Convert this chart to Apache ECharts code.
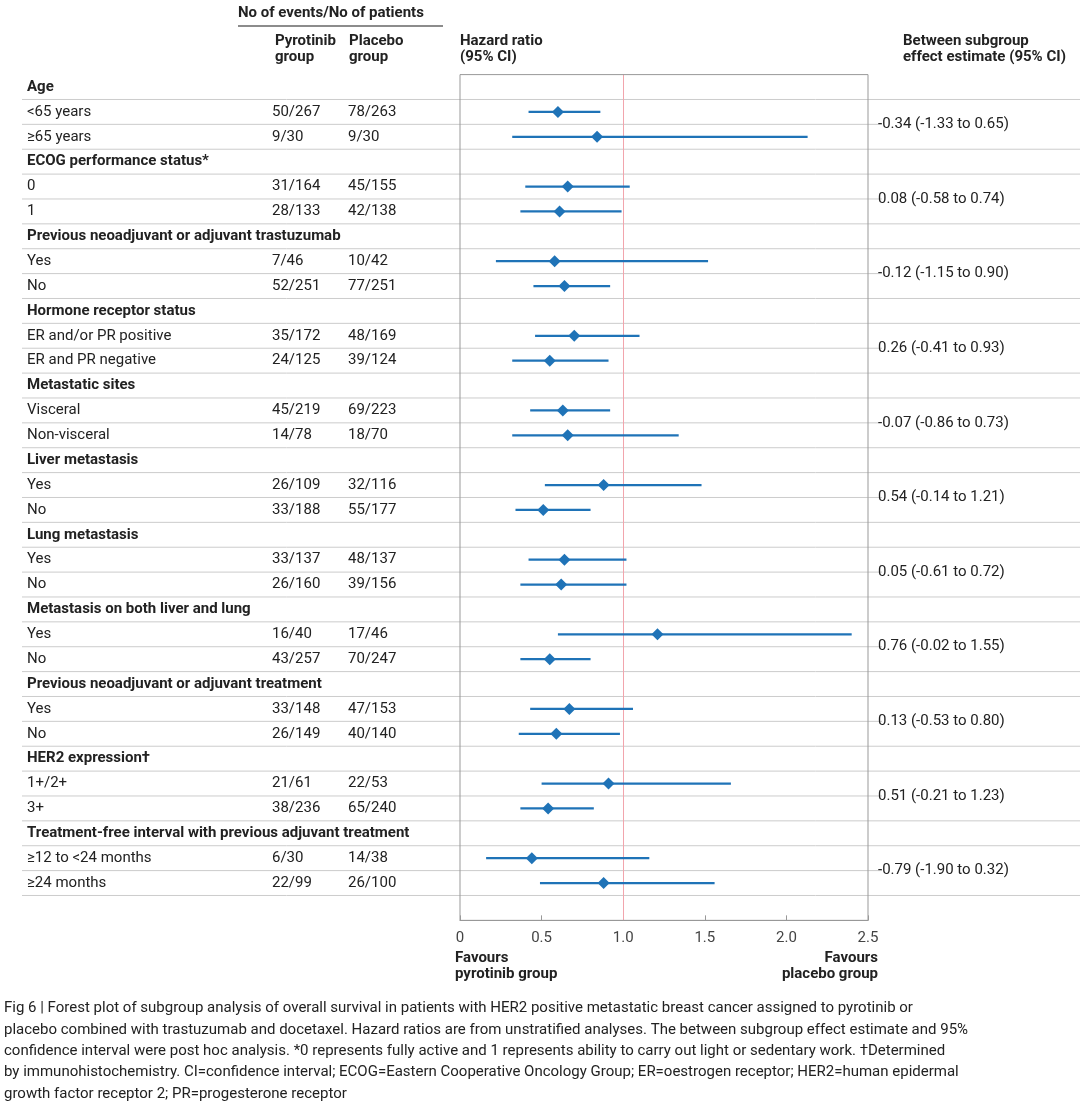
<!DOCTYPE html>
<html><head><meta charset="utf-8">
<script src="https://cdn.jsdelivr.net/npm/echarts@6/dist/echarts.min.js"></script>
<style>body{margin:0;background:#fff}#main{width:1080px;height:1102px}</style>
</head><body><div id="main"></div>
<script>
var FONT = 'Roboto,"Liberation Sans",sans-serif';
var groups = ['Age','ECOG performance status*','Previous neoadjuvant or adjuvant trastuzumab','Hormone receptor status',
  'Metastatic sites','Liver metastasis','Lung metastasis','Metastasis on both liver and lung',
  'Previous neoadjuvant or adjuvant treatment','HER2 expression\u2020','Treatment-free interval with previous adjuvant treatment'];
var subLabels = [['<65 years','\u226565 years'],['0','1'],['Yes','No'],['ER and/or PR positive','ER and PR negative'],
  ['Visceral','Non-visceral'],['Yes','No'],['Yes','No'],['Yes','No'],['Yes','No'],['1+/2+','3+'],
  ['\u226512 to <24 months','\u226524 months']];
var pyroCounts = [['50/267','9/30'],['31/164','28/133'],['7/46','52/251'],['35/172','24/125'],['45/219','14/78'],
  ['26/109','33/188'],['33/137','26/160'],['16/40','43/257'],['33/148','26/149'],['21/61','38/236'],['6/30','22/99']];
var placeboCounts = [['78/263','9/30'],['45/155','42/138'],['10/42','77/251'],['48/169','39/124'],['69/223','18/70'],
  ['32/116','55/177'],['48/137','39/156'],['17/46','70/247'],['47/153','40/140'],['22/53','65/240'],['14/38','26/100']];
var hr = [[0.60,0.84],[0.66,0.61],[0.58,0.64],[0.70,0.55],[0.63,0.66],[0.88,0.51],[0.64,0.62],[1.21,0.55],[0.67,0.59],[0.91,0.54],[0.44,0.88]];
var lo = [[0.42,0.32],[0.40,0.37],[0.22,0.45],[0.46,0.32],[0.43,0.32],[0.52,0.34],[0.42,0.37],[0.60,0.37],[0.43,0.36],[0.50,0.37],[0.16,0.49]];
var hi = [[0.86,2.13],[1.04,0.99],[1.52,0.92],[1.10,0.91],[0.92,1.34],[1.48,0.80],[1.02,1.02],[2.40,0.80],[1.06,0.98],[1.66,0.82],[1.16,1.56]];
var effects = ['-0.34 (-1.33 to 0.65)','0.08 (-0.58 to 0.74)','-0.12 (-1.15 to 0.90)','0.26 (-0.41 to 0.93)',
  '-0.07 (-0.86 to 0.73)','0.54 (-0.14 to 1.21)','0.05 (-0.61 to 0.72)','0.76 (-0.02 to 1.55)',
  '0.13 (-0.53 to 0.80)','0.51 (-0.21 to 1.23)','-0.79 (-1.90 to 0.32)'];
var xTicks = ['0','0.5','1.0','1.5','2.0','2.5'];

var nRows = groups.length * 3 + 1;
var cats = [];
for (var i = 0; i < nRows; i++) cats.push(String(i));
var tableData = [], ciData = [];
groups.forEach(function (g, gi) {
  tableData.push([0, gi * 3, 'group', gi, 0]);
  for (var s = 0; s < 2; s++) {
    tableData.push([0, gi * 3 + 1 + s, 'sub', gi, s]);
    ciData.push([lo[gi][s], hi[gi][s], hr[gi][s], gi * 3 + 1 + s]);
  }
});

var chart = echarts.init(document.getElementById('main'));
var txt = function (x, y, t, bold, align) {
  return {type: 'text', style: {x: x, y: y, text: t, fill: '#222', font: (bold ? 'bold ' : '') + '15px ' + FONT,
    textAlign: align || 'left', textVerticalAlign: 'middle'}};
};
chart.setOption({
  animation: false,
  grid: {left: 460, right: 212, top: 74.6, height: 24.875 * nRows},
  xAxis: {type: 'value', min: 0, max: 2.5, interval: 0.5,
    axisLine: {show: true, lineStyle: {color: '#999'}}, axisTick: {show: true, inside: true, length: 5, lineStyle: {color: '#999'}},
    axisLabel: {formatter: function (v, idx) { return xTicks[idx]; }, fontFamily: FONT, fontSize: 15, color: '#444', margin: 10},
    splitLine: {show: false}},
  yAxis: {type: 'category', data: cats, inverse: true, show: false},
  graphic: [
    txt(238, 13, 'No of events/No of patients', true),
    {type: 'line', shape: {x1: 238, y1: 26, x2: 443, y2: 26}, style: {stroke: '#666', lineWidth: 1.5}},
    txt(275, 41, 'Pyrotinib', true), txt(275, 57, 'group', true),
    txt(349, 41, 'Placebo', true), txt(349, 57, 'group', true),
    txt(460, 41, 'Hazard ratio', true), txt(460, 57, '(95% CI)', true),
    txt(903, 41, 'Between subgroup', true), txt(903, 57, 'effect estimate (95% CI)', true),
    {type: 'rect', shape: {x: 460, y: 74.6, width: 408, height: 24.875 * nRows}, style: {fill: 'none', stroke: '#999', lineWidth: 1}, z: 10},
    txt(455, 958, 'Favours', true), txt(455, 974, 'pyrotinib group', true),
    txt(878, 958, 'Favours', true, 'right'), txt(878, 974, 'placebo group', true, 'right'),
    {type: 'text', style: {x: 4, y: 998, fill: '#222', font: '15px ' + FONT, lineHeight: 21.3,
      text: 'Fig 6 | Forest plot of subgroup analysis of overall survival in patients with HER2 positive metastatic breast cancer assigned to pyrotinib or\n' +
      'placebo combined with trastuzumab and docetaxel. Hazard ratios are from unstratified analyses. The between subgroup effect estimate and 95%\n' +
      'confidence interval were post hoc analysis. *0 represents fully active and 1 represents ability to carry out light or sedentary work. \u2020Determined\n' +
      'by immunohistochemistry. CI=confidence interval; ECOG=Eastern Cooperative Oncology Group; ER=oestrogen receptor; HER2=human epidermal\n' +
      'growth factor receptor 2; PR=progesterone receptor'}}
  ],
  series: [
    {type: 'custom', data: tableData, clip: false, silent: true, z: 1,
      renderItem: function (params, api) {
        var row = api.value(1), kind = tableData[params.dataIndex][2];
        var gi = tableData[params.dataIndex][3], s = tableData[params.dataIndex][4];
        var y = api.coord([0, row])[1], h = api.size([0, 1])[1];
        var yb = y + h / 2;
        var children = [];
        var fullLine = kind === 'group' || s === 1;
        children.push({type: 'line', shape: {x1: 22, y1: yb, x2: fullLine ? 1080 : 882, y2: yb}, style: {stroke: '#ccc', lineWidth: 1}});
        if (kind === 'group') {
          children.push(txt(27, y, groups[gi], true));
        } else {
          children.push(txt(27, y, subLabels[gi][s]));
          children.push(txt(272, y, pyroCounts[gi][s]));
          children.push(txt(348, y, placeboCounts[gi][s]));
          if (s === 0) children.push(txt(878, yb, effects[gi]));
        }
        return {type: 'group', children: children};
      },
      markLine: {silent: true, symbol: 'none', label: {show: false}, lineStyle: {color: '#f2a5ad', width: 1, type: 'solid'},
        data: [{xAxis: 1}]}},
    {type: 'custom', data: ciData, z: 5,
      renderItem: function (params, api) {
        var a = api.coord([api.value(0), api.value(3)]), b = api.coord([api.value(1), api.value(3)]);
        var c = api.coord([api.value(2), api.value(3)]);
        var r = 6;
        return {type: 'group', children: [
          {type: 'line', shape: {x1: a[0], y1: a[1], x2: b[0], y2: b[1]}, style: {stroke: '#1f73b7', lineWidth: 2.2}},
          {type: 'polygon', shape: {points: [[c[0], c[1] - r], [c[0] + r, c[1]], [c[0], c[1] + r], [c[0] - r, c[1]]]},
            style: {fill: '#1f73b7'}}
        ]};
      }}
  ]
});
</script></body></html>
